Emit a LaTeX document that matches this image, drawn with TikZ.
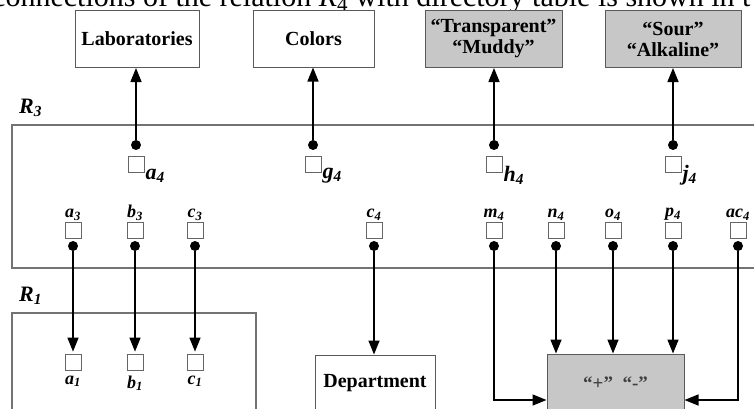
\documentclass[tikz,border=0pt]{standalone}
\usepackage{fontspec}
\setmainfont{Liberation Serif}
\usetikzlibrary{arrows.meta}

\begin{document}
\begin{tikzpicture}[x=1pt,y=-1pt,
  tbl/.style={draw=black!65,line width=1pt,minimum width=#1,minimum height=57pt,inner sep=0pt,
    font=\fontsize{20}{21}\selectfont\bfseries,align=center},
  greybox/.style={fill=black!22},
  attr/.style={draw=black!60,line width=0.8pt,minimum size=16pt,inner sep=0pt},
  knob/.style={circle,fill=black,minimum size=10pt,inner sep=0pt},
  link/.style={line width=1.5pt,-{Triangle[length=14pt,width=11pt]}},
  rel/.style={draw=black!55,line width=1.5pt},
  lbl/.style={font=\fontsize{18}{18}\selectfont\bfseries\itshape,inner sep=1pt},
  biglbl/.style={font=\fontsize{22}{22}\selectfont\bfseries\itshape,inner sep=1pt,anchor=west,yshift=-11pt}]
\useasboundingbox (0,0) rectangle (754,408);
\node[anchor=base west,inner sep=0pt,font=\fontsize{30}{30}\selectfont] (caption) at (-8,6)
  {connections of the relation \textit{R}\textsubscript{4} with directory table is shown in t};

% relations
\draw[rel] (12,125) rectangle (770,268);
\draw[rel] (12,313) rectangle (256,430);
\node[lbl,font=\fontsize{22}{22}\selectfont\bfseries\itshape,anchor=south west] (r3) at (18,118) {R\textsubscript{3}};
\node[lbl,font=\fontsize{22}{22}\selectfont\bfseries\itshape,anchor=south west] (r1) at (18,306) {R\textsubscript{1}};

% directory tables
\node[tbl=124pt] (lab) at (137,39) {Laboratories};
\node[tbl=121pt] (col) at (313.5,38.5) {Colors};
\node[tbl=137pt,greybox] (wat) at (493.5,39) {“Transparent”\\“Muddy”};
\node[tbl=136pt,greybox] (taste) at (673,39) {“Sour”\\“Alkaline”};
\node[tbl=120pt,minimum height=56pt] (dept) at (375,383) {Department};
\node[tbl=137pt,minimum height=58pt,greybox,font=\fontsize{19}{19}\selectfont\bfseries,text=black!75] (sign) at (615.5,383) {“+”\ \ “-”};

% R3 upper attributes
\node[attr,label={[biglbl]right:a\textsubscript{4}}] (a4) at (136,164.5) {};
\node[attr,label={[biglbl]right:g\textsubscript{4}}] (g4) at (313,164.5) {};
\node[attr,label={[biglbl]right:h\textsubscript{4}}] (h4) at (494,164.5) {};
\node[attr,label={[biglbl]right:j\textsubscript{4}}] (j4) at (673,164.5) {};
\node[knob] (ka4) at (136,145) {};
\node[knob] (kg4) at (313,145) {};
\node[knob] (kh4) at (494,145) {};
\node[knob] (kj4) at (673,145) {};

% R3 lower attributes
\node[attr,label={[lbl]above:a\textsubscript{3}}] (a3) at (73,230) {};
\node[attr,label={[lbl]above:b\textsubscript{3}}] (b3) at (135,230) {};
\node[attr,label={[lbl]above:c\textsubscript{3}}] (c3) at (195,230) {};
\node[attr,label={[lbl]above:c\textsubscript{4}}] (c4) at (374,230) {};
\node[attr,label={[lbl]above:m\textsubscript{4}}] (m4) at (494,230) {};
\node[attr,label={[lbl]above:n\textsubscript{4}}] (n4) at (556,230) {};
\node[attr,label={[lbl]above:o\textsubscript{4}}] (o4) at (613,230) {};
\node[attr,label={[lbl]above:p\textsubscript{4}}] (p4) at (673,230) {};
\node[attr,label={[lbl]above:ac\textsubscript{4}}] (ac4) at (738,230) {};
\node[knob] (ka3) at (73,246) {};
\node[knob] (kb3) at (135,246) {};
\node[knob] (kc3) at (195,246) {};
\node[knob] (kc4) at (374,246) {};
\node[knob] (km4) at (494,246) {};
\node[knob] (kn4) at (556,246) {};
\node[knob] (ko4) at (613,246) {};
\node[knob] (kp4) at (673,246) {};
\node[knob] (kac4) at (738,246) {};

% R1 attributes
\node[attr,label={[lbl,label distance=4pt]below:a\textsubscript{1}}] (a1) at (73,362) {};
\node[attr,label={[lbl,label distance=4pt]below:b\textsubscript{1}}] (b1) at (135,362) {};
\node[attr,label={[lbl,label distance=4pt]below:c\textsubscript{1}}] (c1) at (195,362) {};

% connections
\draw[link] (ka4) -- (ka4 |- lab.south);
\draw[link] (kg4) -- (kg4 |- col.south);
\draw[link] (kh4) -- (kh4 |- wat.south);
\draw[link] (kj4) -- (kj4 |- taste.south);
\draw[link,shorten >=2pt] (ka3) -- (a1);
\draw[link,shorten >=2pt] (kb3) -- (b1);
\draw[link,shorten >=2pt] (kc3) -- (c1);
\draw[link] (kc4) -- (kc4 |- dept.north);
\draw[link] (kn4) -- (kn4 |- sign.north);
\draw[link] (ko4) -- (ko4 |- sign.north);
\draw[link] (kp4) -- (kp4 |- sign.north);
\draw[link] (km4) |- ([yshift=-17pt]sign.west);
\draw[link] (kac4) |- ([yshift=-17pt]sign.east);
\end{tikzpicture}
\end{document}
